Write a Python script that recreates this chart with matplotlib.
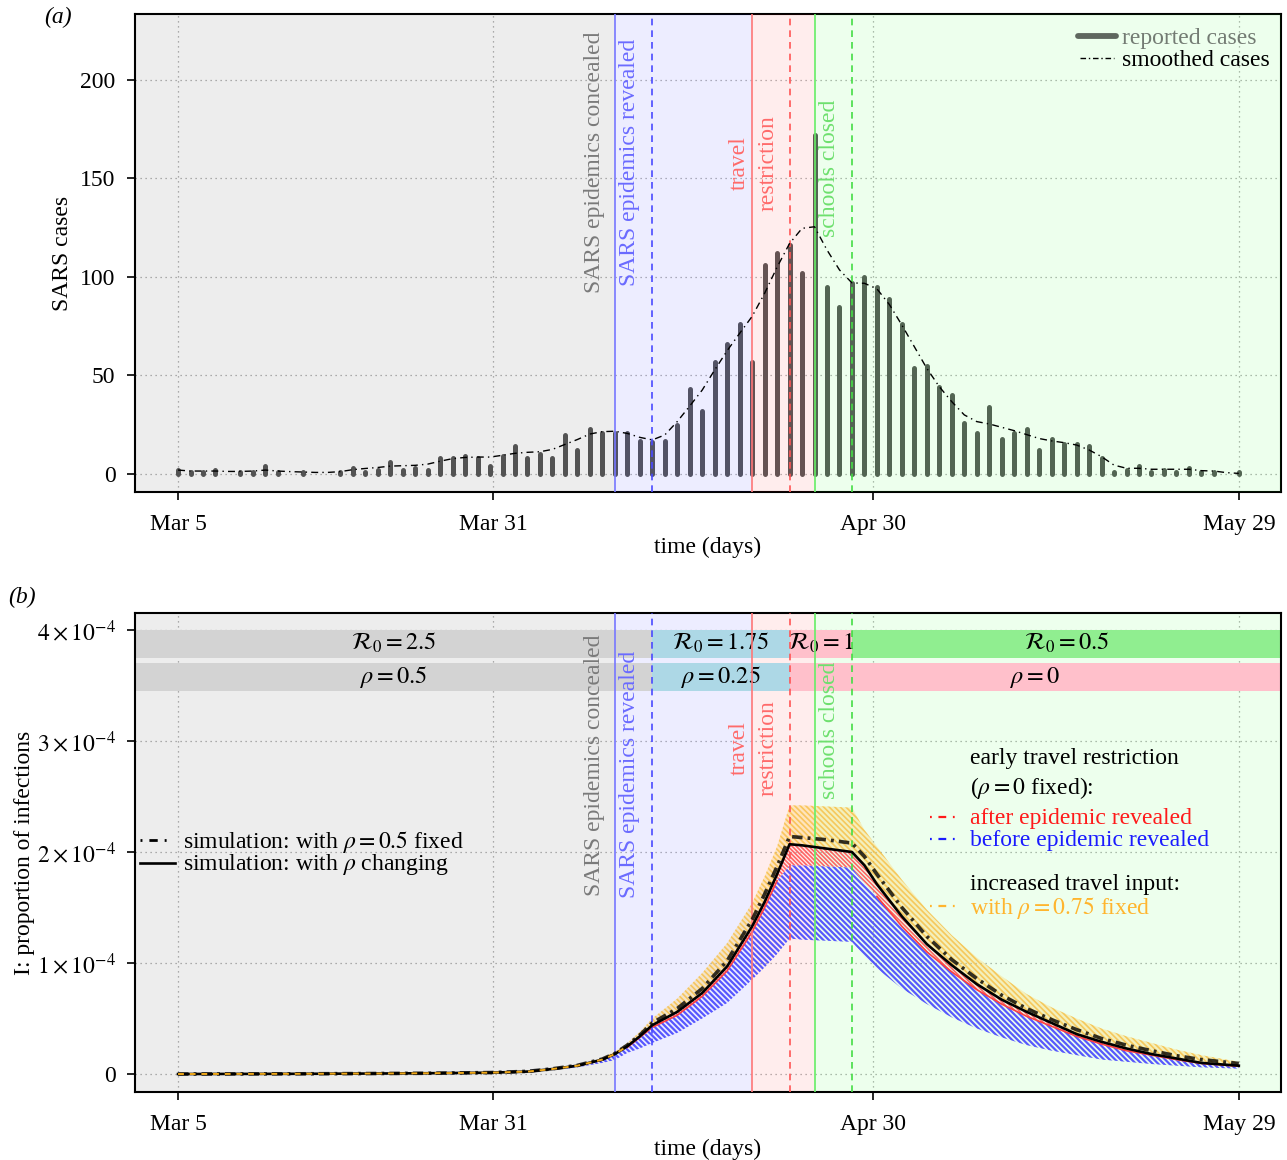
import numpy as np
import matplotlib
matplotlib.use('Agg')
import matplotlib.pyplot as plt
from matplotlib.patches import Rectangle
from matplotlib.lines import Line2D

plt.rcParams['font.family'] = ['Liberation Serif', 'DejaVu Serif']
plt.rcParams['mathtext.fontset'] = 'stix'

# ---------------- data ----------------
days = np.arange(86)
reported_cases = [2, 1, 1, 2, 0, 1, 1, 4, 1, 0,
                  1, 0, 0, 1, 3, 1, 2, 6, 2, 3,
                  2, 8, 8, 9, 8, 4, 9, 14, 8, 10,
                  8, 20, 12, 23, 21, 21, 21, 17, 16, 17,
                  25, 43, 32, 57, 66, 76, 57, 106, 112, 116,
                  102, 172, 95, 85, 97, 100, 95, 89, 76, 54,
                  55, 44, 40, 26, 21, 34, 18, 21, 23, 12,
                  18, 15, 15, 14, 8, 1, 2, 4, 1, 2,
                  1, 3, 1, 1, 0, 1]
smoothed_cases = [2, 1.5, 1.5, 1.5, 1.3, 1.3, 1.5, 2, 1.5, 1.2,
                  1, 0.8, 0.8, 1.2, 2.2, 2.8, 3.3, 4, 4.2, 4.4,
                  5, 6.5, 7.8, 8.4, 8.6, 8.6, 9.5, 10.5, 11, 11.3,
                  12.5, 15, 17.5, 20.3, 21.5, 21.7, 20.6, 18.6, 17.3, 19.8,
                  26.6, 34.5, 42.6, 52.8, 62.6, 71.4, 80, 91.7, 105, 117,
                  124.7, 125.5, 113.7, 103.6, 97, 96.8, 94, 86, 75.6, 64.6,
                  53.6, 44.3, 36.7, 30, 26.6, 25.4, 23.7, 22, 20, 18,
                  16.8, 15.9, 14.7, 12.2, 8.8, 4.5, 2.9, 2.9, 2.4, 2.4,
                  2.4, 2.4, 1.7, 1.5, 0.7, 0.3]

# simulated proportions (units of 1e-4)
sim_days = [0, 5, 10, 15, 20, 25, 28, 30, 32, 34, 35, 36, 37, 38, 40, 42, 44, 46, 47, 48,
            49, 50, 52, 54, 55, 56, 58, 60, 62, 64, 66, 68, 70, 72, 74, 76, 78, 80, 82, 85]
sim_rho_changing = [0.0, 0.001, 0.002, 0.004, 0.007, 0.012, 0.022, 0.045, 0.075, 0.13,
                    0.18, 0.25, 0.34, 0.44, 0.56, 0.73, 0.97, 1.33, 1.55, 1.80,
                    2.07, 2.06, 2.03, 2.00, 1.88, 1.71, 1.42, 1.17, 0.98, 0.81,
                    0.67, 0.56, 0.46, 0.36, 0.29, 0.23, 0.18, 0.14, 0.10, 0.075]
sim_rho_fixed = [0.0, 0.001, 0.002, 0.004, 0.007, 0.013, 0.024, 0.047, 0.078, 0.135,
                 0.185, 0.26, 0.35, 0.46, 0.59, 0.77, 1.02, 1.39, 1.62, 1.87,
                 2.14, 2.13, 2.11, 2.08, 1.96, 1.80, 1.50, 1.24, 1.03, 0.86,
                 0.71, 0.59, 0.49, 0.40, 0.32, 0.26, 0.21, 0.165, 0.13, 0.095]
increased_upper = [0.0, 0.001, 0.002, 0.005, 0.008, 0.015, 0.027, 0.05, 0.085, 0.15,
                   0.20, 0.28, 0.38, 0.50, 0.68, 0.91, 1.18, 1.54, 1.78, 2.05,
                   2.42, 2.42, 2.41, 2.40, 2.20, 2.05, 1.75, 1.48, 1.25, 1.05,
                   0.88, 0.72, 0.60, 0.50, 0.41, 0.34, 0.28, 0.22, 0.17, 0.11]
before_lower = [0.0, 0.001, 0.002, 0.004, 0.006, 0.010, 0.018, 0.035, 0.06, 0.10,
                0.126, 0.19, 0.23, 0.28, 0.37, 0.50, 0.64, 0.85, 0.96, 1.08,
                1.22, 1.21, 1.20, 1.19, 1.06, 0.95, 0.77, 0.63, 0.51, 0.41,
                0.33, 0.26, 0.21, 0.17, 0.13, 0.11, 0.09, 0.075, 0.06, 0.048]
before_upper = [0.0, 0.001, 0.002, 0.004, 0.007, 0.011, 0.021, 0.043, 0.072, 0.125,
                0.17, 0.24, 0.33, 0.42, 0.53, 0.70, 0.93, 1.28, 1.50, 1.74,
                1.88, 1.88, 1.87, 1.86, 1.72, 1.60, 1.33, 1.10, 0.92, 0.76,
                0.63, 0.52, 0.43, 0.34, 0.27, 0.21, 0.17, 0.13, 0.095, 0.07]

xtick_pos = [0, 25.25, 55.7, 85]
xtick_labels = ['Mar 5', 'Mar 31', 'Apr 30', 'May 29']
ytick_a = [0, 50, 100, 150, 200]
ytick_b = [0, 1, 2, 3, 4]

# event days
ev_concealed, ev_revealed = 35, 38
ev_travel, ev_travel2 = 46, 49
ev_school, ev_school2 = 51, 54

R0_breaks = [38, 49, 54]
R0_labels = ['2.5', '1.75', '1', '0.5']
R0_colors = ['lightgray', 'lightblue', 'pink', 'lightgreen']
rho_breaks = [38, 49]
rho_labels = ['0.5', '0.25', '0']
rho_colors = ['lightgray', 'lightblue', 'pink']

SCALE = 1e-4
XLIM = (-3.45, 88.38)
FS = 17

# ---------------- figure ----------------
fig = plt.figure(figsize=(12.87, 11.6), dpi=100)
axA = fig.add_axes([0.10490, 0.575862, 0.89044, 0.412069])
axB = fig.add_axes([0.10490, 0.058621, 0.89044, 0.412931])

region_cols = [('k', XLIM[0], ev_concealed), ('#0000ff', ev_concealed, ev_travel),
               ('#ff0000', ev_travel, ev_school), ('#00ff00', ev_school, XLIM[1])]
event_lines = [(ev_concealed, '#7777ff', '-'), (ev_revealed, '#4a4aff', (0, (4, 3))),
               (ev_travel, '#ff7777', '-'), (ev_travel2, '#ff5555', (0, (4, 3))),
               (ev_school, '#66ee66', '-'), (ev_school2, '#44dd44', (0, (4, 3)))]


def common(ax, ylim, yticks, yticklabels, ylabel, ylabel_x, xlabel_y, ovz):
    ax.set_facecolor('white')
    ax.set_xlim(*XLIM)
    ax.set_ylim(*ylim)
    for c, a, b in region_cols:
        ax.axvspan(a, b, color=c, alpha=0.07, lw=0, zorder=ovz)
    for x, c, ls in event_lines:
        ax.axvline(x, color=c, ls=ls, lw=1.2, zorder=3.5)
    ax.set_xticks(xtick_pos)
    ax.set_xticklabels(xtick_labels)
    ax.set_yticks(yticks)
    ax.set_yticklabels(yticklabels)
    ax.set_axisbelow(True)
    ax.grid(True, linestyle=(0, (1, 3)), color='#a0a0a0', lw=0.9)
    ax.tick_params(direction='out', length=6, width=1.2, labelsize=FS, colors='black')
    ax.tick_params(axis='x', pad=10)
    ax.tick_params(axis='y', pad=8)
    for s in ax.spines.values():
        s.set_linewidth(1.5)
    ax.set_xlabel('time (days)', fontsize=FS)
    ax.xaxis.set_label_coords(0.5, xlabel_y)
    ax.set_ylabel(ylabel, fontsize=FS)
    ax.yaxis.set_label_coords(ylabel_x, 0.5)
    ax.yaxis.label.set_verticalalignment('center')


# ---------------- panel (a) ----------------
common(axA, (-9.14, 233.5), ytick_a, [str(v) for v in ytick_a], 'SARS cases',
       -0.0637, -0.094, 3)
axA.vlines(days, 0, reported_cases, color='#5a5a5a', lw=3.6, capstyle='round', zorder=2)
axA.plot(days, smoothed_cases, color='black', lw=1.0, ls=(0, (5, 3, 1, 3)), zorder=4)

lab_a = [(33.33, 158, 'SARS epidemics concealed', '#7a7a7a'),
         (36.14, 158, 'SARS epidemics revealed', '#6a6aff'),
         (45.0, 158, 'travel', '#ff6a6a'),
         (47.3, 158, 'restriction', '#ff6a6a'),
         (52.2, 155, 'schools closed', '#6ee06e')]
for x, y, s, c in lab_a:
    axA.text(x, y, s, rotation=90, ha='center', va='center', color=c, fontsize=FS, zorder=5)

# legend (a)
axA.add_line(Line2D([0.8229, 0.856], [0.954, 0.954], transform=axA.transAxes,
                    color='#5f675f', lw=4.2, solid_capstyle='round', zorder=6))
axA.text(0.8613, 0.948, 'reported cases', transform=axA.transAxes, color='#737b73',
         fontsize=FS, va='center', ha='left', zorder=6)
axA.add_line(Line2D([0.8246, 0.8543], [0.908, 0.908], transform=axA.transAxes,
                    color='black', lw=1.0, ls=(0, (4, 2, 1, 2)), zorder=6))
axA.text(0.8613, 0.902, 'smoothed cases', transform=axA.transAxes, color='black',
         fontsize=FS, va='center', ha='left', zorder=6)

# ---------------- panel (b) ----------------
common(axB, (-0.162 * SCALE, 4.153 * SCALE), [v * SCALE for v in ytick_b],
       ['0'] + [r'$%d\times10^{-4}$' % v for v in ytick_b[1:]],
       'I: proportion of infections', -0.0965, -0.098, 0.6)

sd = np.array(sim_days, dtype=float)
blk = np.array(sim_rho_changing) * SCALE
fix = np.array(sim_rho_fixed) * SCALE
oup = np.array(increased_upper) * SCALE
blo = np.array(before_lower) * SCALE
bup = np.array(before_upper) * SCALE

# parameter boxes
edges_R = [XLIM[0]] + R0_breaks + [XLIM[1]]
for i, (lab, col) in enumerate(zip(R0_labels, R0_colors)):
    a, b = edges_R[i], edges_R[i + 1]
    axB.add_patch(Rectangle((a, 3.75 * SCALE), b - a, 0.25 * SCALE, facecolor=col,
                            edgecolor='none', zorder=1))
    axB.text((a + b) / 2, 3.88 * SCALE, r'$\mathcal{R}_0=%s$' % lab, ha='center',
             va='center', fontsize=FS + 0.5, zorder=1.5)
edges_r = [XLIM[0]] + rho_breaks + [XLIM[1]]
for i, (lab, col) in enumerate(zip(rho_labels, rho_colors)):
    a, b = edges_r[i], edges_r[i + 1]
    axB.add_patch(Rectangle((a, 3.45 * SCALE), b - a, 0.25 * SCALE, facecolor=col,
                            edgecolor='none', zorder=1))
    axB.text((a + b) / 2, 3.575 * SCALE, r'$\rho=%s$' % lab, ha='center',
             va='center', fontsize=FS + 0.5, zorder=1.5)

lab_b = [(33.33, 2.78, 'SARS epidemics concealed', '#7a7a7a'),
         (36.14, 2.70, 'SARS epidemics revealed', '#6a6aff'),
         (45.0, 2.94, 'travel', '#ff6a6a'),
         (47.3, 2.94, 'restriction', '#ff6a6a'),
         (52.2, 3.10, 'schools closed', '#6ee06e')]
for x, y, s, c in lab_b:
    axB.text(x, y * SCALE, s, rotation=90, ha='center', va='center', color=c,
             fontsize=FS, zorder=2.2)

# hatched scenario bands
m_or = sd >= 34
m_bl = sd >= 30
m_rd = sd >= 36
with plt.rc_context({'hatch.linewidth': 1.2}):
    axB.fill_between(sd[m_or], blk[m_or], oup[m_or], facecolor=(1.0, 0.84, 0.4, 0.35),
                     edgecolor=(0.97, 0.72, 0.2, 0.7), hatch='\\' * 6, lw=0, zorder=2)
with plt.rc_context({'hatch.linewidth': 1.6}):
    axB.fill_between(sd[m_bl], blo[m_bl], bup[m_bl], facecolor='none',
                     edgecolor=(0.28, 0.28, 1.0, 0.9), hatch='\\' * 6, lw=0, zorder=2.1)
with plt.rc_context({'hatch.linewidth': 1.2}):
    axB.fill_between(sd[m_rd], bup[m_rd], blk[m_rd], facecolor='none',
                     edgecolor=(1.0, 0.3, 0.3, 0.85), hatch='\\' * 8, lw=0, zorder=2.2)
red_edge = np.where((sd >= 36) & ((sd <= 48) | (sd >= 56)), bup, np.nan)
axB.plot(sd, red_edge, color=(1.0, 0.25, 0.25), lw=1.2, zorder=2.3)
axB.plot(sd, fix, color=(0, 0, 0, 0.8), lw=2.6, ls=(0, (2.9, 1.4, 0.8, 1.4)), zorder=4)
axB.plot(sd, blk, color='black', lw=1.9, zorder=4.5)
axB.plot(sd[sd <= 36], blk[sd <= 36], color='#f0a818', lw=1.4, ls=(0, (3, 3)), zorder=4.6)

# legends (b)
T = axB.transAxes
axB.add_line(Line2D([0.0044, 0.0349], [0.526, 0.526], transform=T, color='black',
                    lw=2.0, ls=(0, (0.7, 2.5, 3, 2.5, 0.7, 9)), zorder=6))
axB.add_line(Line2D([0.0044, 0.0349], [0.478, 0.478], transform=T, color='black',
                    lw=1.9, zorder=6))
axB.text(0.0419, 0.522, r'simulation: with $\rho=0.5$ fixed', transform=T,
         fontsize=FS, va='center', ha='left', zorder=6)
axB.text(0.0419, 0.474, r'simulation: with $\rho$ changing', transform=T,
         fontsize=FS, va='center', ha='left', zorder=6)

right_rows = [(0.6994, 'early travel restriction', 'black', None),
              (0.6388, r'($\rho=0$ fixed):', 'black', None),
              (0.5741, 'after epidemic revealed', '#ff1a1a', '#ff1a1a'),
              (0.5282, 'before epidemic revealed', '#1a1aff', '#1a1aff'),
              (0.4363, 'increased travel input:', 'black', None),
              (0.3883, r'with $\rho=0.75$ fixed', '#ffb52e', '#ffb52e')]
for y, s, c, hc in right_rows:
    axB.text(0.7286, y - 0.004, s, transform=T, color=c, fontsize=FS, va='center',
             ha='left', zorder=6)
    if hc is not None:
        axB.add_line(Line2D([0.6937, 0.7216], [y, y], transform=T, color=hc, lw=1.6,
                            ls=(0, (0.8, 3, 3.5, 3, 0.8, 9)), zorder=6))

fig.text(58 / 1287, 1 - 17 / 1160, '(a)', style='italic', fontsize=FS, ha='center', va='center')
fig.text(22 / 1287, 1 - 597 / 1160, '(b)', style='italic', fontsize=FS, ha='center', va='center')

fig.savefig('out.png', dpi=100)
